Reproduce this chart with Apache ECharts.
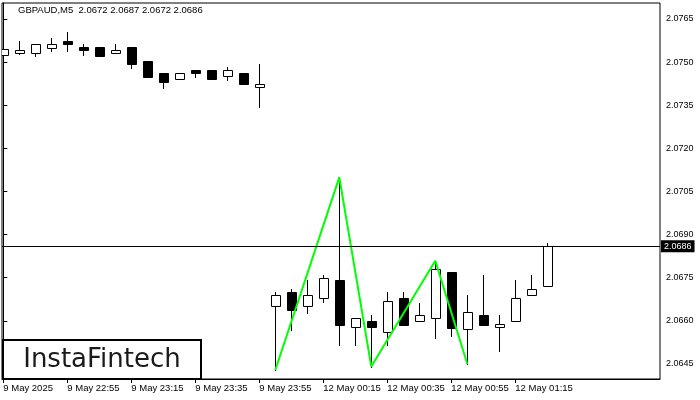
<!DOCTYPE html>
<html>
<head>
<meta charset="utf-8">
<script src="https://cdn.jsdelivr.net/npm/echarts/dist/echarts.min.js"></script>
<style>
html,body{margin:0;padding:0;background:#fff;}
#chart{width:700px;height:400px;}
</style>
</head>
<body>
<div id="chart"></div>
<script>
// candle times (M5)
const times = [
  "9 May 22:35","9 May 22:40","9 May 22:45","9 May 22:50","9 May 22:55","9 May 23:00","9 May 23:05","9 May 23:10",
  "9 May 23:15","9 May 23:20","9 May 23:25","9 May 23:30","9 May 23:35","9 May 23:40","9 May 23:45","9 May 23:50",
  "9 May 23:55","12 May 00:00","12 May 00:05","12 May 00:10","12 May 00:15","12 May 00:20","12 May 00:25","12 May 00:30",
  "12 May 00:35","12 May 00:40","12 May 00:45","12 May 00:50","12 May 00:55","12 May 01:00","12 May 01:05","12 May 01:10",
  "12 May 01:15","12 May 01:20","12 May 01:25"
];
const opens = [
  2.07525,2.07531,2.07531,2.07548,2.07573,2.07553,2.07553,2.07531,
  2.07553,2.07504,2.07463,2.07440,2.07473,2.07473,2.07451,2.07463,
  2.07412,2.06651,2.06699,2.06651,2.06679,2.06741,2.06578,2.06599,
  2.06560,2.06679,2.06599,2.06609,2.06769,2.06571,2.06619,2.06578,
  2.06599,2.06689,2.0672
];
const closes = [
  2.07546,2.07542,2.07563,2.07564,2.07562,2.07541,2.07522,2.07542,
  2.07492,2.07449,2.07432,2.07461,2.07461,2.07440,2.07472,2.07423,
  2.07423,2.06689,2.06639,2.06689,2.06748,2.06587,2.06609,2.06578,
  2.06668,2.06587,2.06619,2.06779,2.06576,2.06630,2.06587,2.06588,
  2.06679,2.06710,2.0686
];
const lows = [
  2.07521,2.07530,2.07522,2.07540,2.07540,2.07524,2.07522,2.07531,
  2.07481,2.07449,2.07411,2.07440,2.07449,2.07440,2.07439,2.07423,
  2.07343,2.06429,2.06569,2.06628,2.06667,2.06517,2.06517,2.06441,
  2.06517,2.06587,2.06599,2.06539,2.06548,2.06449,2.06587,2.06496,
  2.06599,2.06689,2.0672
];
const highs = [
  2.07549,2.07575,2.07563,2.07583,2.07604,2.07564,2.07553,2.07564,
  2.07553,2.07504,2.07463,2.07461,2.07473,2.07473,2.07483,2.07463,
  2.07493,2.06700,2.06711,2.06742,2.06760,2.07099,2.06609,2.06620,
  2.06700,2.06700,2.06662,2.06800,2.06769,2.06690,2.06760,2.06620,
  2.06742,2.06760,2.0687
];
// zigzag pattern (indices into candles, prices)
const patternIdx = [17, 21, 23, 27, 29];
const patternVal = [2.06429, 2.07099, 2.06441, 2.06809, 2.06450];
// current price
const currentPrice = 2.0686;
// axis ticks
const xTickIdx = [0, 4, 8, 12, 16, 20, 24, 28, 32];
const xTickLabels = ["9 May 2025","9 May 22:55","9 May 23:15","9 May 23:35","9 May 23:55","12 May 00:15","12 May 00:35","12 May 00:55","12 May 01:15"];
const yTicks = [2.0645, 2.0660, 2.0675, 2.0690, 2.0705, 2.0720, 2.0735, 2.0750, 2.0765];
const titleText = "GBPAUD,M5  2.0672 2.0687 2.0672 2.0686";

const candleData = times.map((t, i) => [i, opens[i], closes[i], lows[i], highs[i]]);
const patternData = patternIdx.map((ix, k) => [ix, patternVal[k]]);

function renderCandle(params, api) {
  const i = api.value(0), o = api.value(1), c = api.value(2), l = api.value(3), h = api.value(4);
  const pO = api.coord([i, o]), pC = api.coord([i, c]);
  const pL = api.coord([i, l]), pH = api.coord([i, h]);
  const cx = Math.floor(pO[0]) + 0.5;
  const snap = v => Math.round(v) + 0.5;
  const yTop = snap(Math.min(pO[1], pC[1])), yBot = snap(Math.max(pO[1], pC[1]));
  const up = c >= o;
  return {
    type: 'group',
    children: [
      { type: 'line', shape: { x1: cx, y1: Math.round(pH[1]), x2: cx, y2: Math.round(pL[1]) + 1 },
        style: { stroke: '#000', lineWidth: 1 } },
      { type: 'rect', shape: { x: cx - 4, y: yTop, width: 9, height: Math.max(yBot - yTop, 1) },
        style: { fill: up ? '#fff' : '#000', stroke: '#000', lineWidth: 1 } }
    ]
  };
}

const chart = echarts.init(document.getElementById('chart'), null, { renderer: 'canvas' });
const font = 'Liberation Sans';
chart.setOption({
  animation: false,
  backgroundColor: '#fff',
  textStyle: { fontFamily: font },
  title: {
    text: titleText,
    left: 18, top: 5, padding: 0,
    textStyle: { fontFamily: font, fontSize: 9.5, fontWeight: 'normal', color: '#000' }
  },
  grid: { left: 2, right: 40, top: 3, bottom: 21, show: true, borderColor: '#000', borderWidth: 1, backgroundColor: 'transparent' },
  xAxis: {
    type: 'value',
    min: -0.08125, max: 41.04375,
    axisLine: { show: true, lineStyle: { color: '#000', width: 1 } },
    axisTick: { show: true, customValues: xTickIdx, length: 4, lineStyle: { color: '#000' } },
    axisLabel: {
      show: true, customValues: xTickIdx, align: 'left', margin: 4,
      fontFamily: font, fontSize: 9.5, color: '#000',
      formatter: v => xTickLabels[xTickIdx.indexOf(Math.round(v))] || ''
    },
    splitLine: { show: false }
  },
  yAxis: {
    type: 'value', position: 'right',
    min: 2.063978, max: 2.077057,
    axisLine: { show: true, lineStyle: { color: '#000', width: 1 } },
    axisTick: { show: true, customValues: yTicks, length: 4, lineStyle: { color: '#000' } },
    axisLabel: {
      show: true, customValues: yTicks, margin: 6,
      fontFamily: font, fontSize: 9, color: '#000',
      formatter: v => v.toFixed(4)
    },
    splitLine: { show: false }
  },
  series: [
    {
      type: 'custom', name: 'candles', z: 2, clip: true,
      renderItem: renderCandle,
      encode: { x: 0, y: [1, 2, 3, 4] },
      data: candleData
    },
    {
      type: 'line', name: 'price', z: 3, clip: false,
      data: [[times.length - 1, currentPrice]],
      showSymbol: false, symbol: 'none',
      lineStyle: { opacity: 0 },
      markLine: {
        silent: true, symbol: ['none', 'none'], precision: 5,
        lineStyle: { color: '#000', width: 1, type: 'solid' },
        label: {
          show: true, position: 'end', distance: 1,
          formatter: currentPrice.toFixed(4),
          backgroundColor: '#000', color: '#fff',
          fontFamily: font, fontSize: 9, padding: [2, 3, 1, 3]
        },
        data: [{ yAxis: currentPrice }]
      }
    },
    {
      type: 'line', name: 'pattern', z: 4,
      data: patternData,
      showSymbol: false, symbol: 'none',
      lineStyle: { color: '#00ff00', width: 2 }
    }
  ],
  graphic: [
    {
      type: 'rect', z: 100,
      shape: { x: 3, y: 340, width: 198, height: 39 },
      style: { fill: '#fff', stroke: '#000', lineWidth: 2 }
    },
    {
      type: 'text', z: 101,
      style: {
        x: 102, y: 360, text: 'InstaFintech',
        fontFamily: 'DejaVu Sans', fontSize: 26, fill: '#1a1a1a',
        align: 'center', verticalAlign: 'middle'
      }
    }
  ]
});
</script>
</body>
</html>
